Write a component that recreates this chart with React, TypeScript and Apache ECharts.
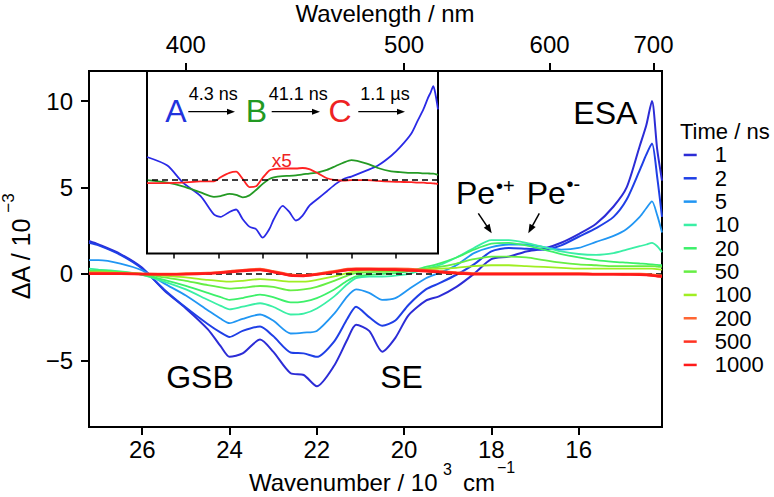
import React, { useEffect, useRef } from "react";
import * as echarts from "echarts";

const FONT = "'Liberation Sans', Arial, Helvetica, sans-serif";

// ---------- data ----------
// wavenumber in 10^3 cm^-1
const wavenumber = [27.22, 27.0, 26.5, 26.0, 25.5, 25.0, 24.5, 24.2, 24.0, 23.7, 23.3, 23.0, 22.6, 22.3, 22.0, 21.6, 21.3, 21.1, 20.8, 20.5, 20.2, 19.9, 19.5, 19.2, 18.8, 18.4, 18.0, 17.6, 17.2, 16.8, 16.4, 16.0, 15.6, 15.2, 14.9, 14.6, 14.45, 14.32, 14.2, 14.09];

// ΔA / 10^-3 at each delay time
const dA_1ns = [1.9, 1.7, 1.15, 0.35, -0.95, -2.0, -3.2, -4.2, -4.8, -4.6, -3.8, -4.5, -5.75, -5.85, -6.5, -5.3, -3.8, -2.95, -3.3, -4.5, -3.7, -2.4, -1.55, -1.3, -0.75, 0.0, 0.85, 1.0, 1.3, 1.45, 1.8, 2.3, 2.9, 3.9, 5.0, 7.4, 8.6, 10.0, 7.2, 5.4];
const dA_2ns = [1.8, 1.65, 1.1, 0.3, -0.9, -1.95, -2.9, -3.4, -3.65, -3.3, -3.05, -3.6, -4.55, -4.6, -4.8, -3.9, -2.6, -1.9, -2.5, -3.0, -2.7, -1.8, -0.9, -0.55, -0.05, 0.55, 1.3, 1.5, 1.45, 1.4, 1.65, 2.15, 2.65, 3.3, 4.3, 6.0, 6.9, 7.55, 5.6, 3.3];
const dA_5ns = [0.8, 0.8, 0.6, 0.2, -0.55, -1.25, -2.1, -2.6, -2.85, -2.6, -2.35, -2.7, -3.45, -3.4, -3.3, -2.3, -1.3, -0.9, -1.1, -1.5, -1.4, -0.9, -0.25, 0.05, 0.5, 1.2, 1.55, 1.7, 1.7, 1.55, 1.4, 1.5, 1.85, 2.2, 2.6, 3.3, 3.8, 4.2, 3.4, 2.4];
const dA_10ns = [0.3, 0.25, 0.15, -0.05, -0.45, -0.9, -1.5, -1.85, -2.05, -1.9, -1.7, -1.9, -2.35, -2.3, -2.0, -1.3, -0.6, -0.25, -0.15, -0.15, -0.1, 0.0, 0.3, 0.5, 0.95, 1.5, 1.95, 1.95, 1.8, 1.55, 1.3, 1.15, 1.1, 1.2, 1.4, 1.6, 1.7, 1.8, 1.6, 1.25];
const dA_20ns = [0.2, 0.2, 0.1, -0.05, -0.35, -0.7, -1.1, -1.35, -1.5, -1.4, -1.2, -1.35, -1.65, -1.6, -1.4, -0.9, -0.4, -0.15, -0.05, 0.0, 0.05, 0.15, 0.4, 0.6, 0.95, 1.4, 1.75, 1.8, 1.65, 1.4, 1.15, 0.95, 0.8, 0.7, 0.65, 0.6, 0.58, 0.55, 0.52, 0.5];
const dA_50ns = [0.15, 0.15, 0.1, 0.0, -0.2, -0.4, -0.65, -0.78, -0.85, -0.8, -0.7, -0.75, -0.95, -0.9, -0.75, -0.4, -0.1, 0.05, 0.1, 0.12, 0.15, 0.2, 0.3, 0.4, 0.6, 0.85, 1.0, 1.0, 0.95, 0.8, 0.65, 0.55, 0.5, 0.45, 0.45, 0.45, 0.45, 0.45, 0.42, 0.4];
const dA_100ns = [0.1, 0.1, 0.05, 0.0, -0.1, -0.2, -0.35, -0.42, -0.45, -0.4, -0.3, -0.35, -0.45, -0.45, -0.35, -0.15, 0.05, 0.15, 0.2, 0.2, 0.2, 0.2, 0.25, 0.3, 0.35, 0.45, 0.5, 0.5, 0.45, 0.4, 0.35, 0.3, 0.3, 0.3, 0.3, 0.3, 0.3, 0.3, 0.28, 0.25];
const dA_200ns = [0.05, 0.05, 0.03, 0.0, 0.0, 0.02, 0.05, 0.1, 0.15, 0.22, 0.28, 0.15, -0.05, -0.08, 0.0, 0.15, 0.28, 0.3, 0.3, 0.3, 0.3, 0.28, 0.22, 0.15, 0.08, 0.03, 0.02, 0.02, 0.02, 0.02, 0.02, 0.02, 0.0, 0.0, 0.0, 0.0, -0.02, -0.05, -0.08, -0.1];
const dA_500ns = [0.03, 0.03, 0.02, 0.0, -0.02, 0.0, 0.03, 0.08, 0.12, 0.2, 0.25, 0.12, -0.08, -0.1, -0.02, 0.12, 0.25, 0.28, 0.28, 0.27, 0.26, 0.24, 0.18, 0.12, 0.05, 0.0, 0.0, 0.0, 0.0, 0.0, 0.0, 0.0, -0.02, -0.02, -0.02, -0.03, -0.05, -0.08, -0.12, -0.14];
const dA_1000ns = [0.0, 0.0, 0.0, -0.02, -0.03, -0.02, 0.02, 0.06, 0.1, 0.17, 0.22, 0.1, -0.1, -0.12, -0.04, 0.1, 0.22, 0.25, 0.26, 0.25, 0.24, 0.2, 0.15, 0.1, 0.03, -0.02, -0.02, -0.02, -0.02, -0.02, -0.02, -0.02, -0.03, -0.03, -0.04, -0.05, -0.07, -0.1, -0.14, -0.15];

const timeLabels = ["1", "2", "5", "10", "20", "50", "100", "200", "500", "1000"];
const timeColors = ["#2c2cd6", "#1f3fe6", "#2196f3", "#3aefa5", "#3df06a", "#66ee44", "#a0ee22", "#ff6633", "#ff3322", "#ff1a1a"];

// inset: species-associated spectra (arb. units)
const insetWavenumber = [27.22, 26.3, 25.6, 24.8, 24.2, 23.9, 23.5, 23.2, 22.9, 22.6, 22.3, 22.0, 21.7, 21.5, 21.1, 20.8, 20.5, 20.2, 19.9, 19.5, 19.1, 18.7, 18.35, 18.0, 17.3, 16.8, 16.2, 15.8, 15.3, 15.0, 14.75, 14.55, 14.42, 14.3, 14.2, 14.09];
const sasA = [0.95, 0.6, -0.1, -0.65, -1.4, -1.5, -1.3, -1.2, -1.6, -1.9, -2.0, -2.35, -2.0, -1.6, -1.05, -1.3, -1.65, -1.45, -1.05, -0.75, -0.45, -0.15, 0.05, 0.15, 0.4, 0.6, 1.0, 1.35, 1.9, 2.45, 2.9, 3.35, 3.6, 3.85, 3.5, 2.9];
const sasB = [0.0, -0.1, -0.25, -0.5, -0.68, -0.65, -0.56, -0.6, -0.7, -0.62, -0.4, -0.15, 0.05, 0.12, 0.17, 0.18, 0.2, 0.24, 0.27, 0.32, 0.42, 0.58, 0.72, 0.82, 0.68, 0.5, 0.36, 0.33, 0.3, 0.3, 0.28, 0.28, 0.27, 0.27, 0.25, 0.22];
const sasC_x5 = [-0.12, -0.12, -0.1, -0.05, -0.05, 0.12, 0.3, 0.35, 0.05, -0.28, -0.25, 0.1, 0.4, 0.45, 0.48, 0.48, 0.48, 0.5, 0.45, 0.28, 0.08, 0.0, -0.02, 0.0, 0.0, -0.03, -0.06, -0.07, -0.08, -0.1, -0.1, -0.12, -0.12, -0.13, -0.14, -0.15];

const wavenumberTicks = [16, 18, 20, 22, 24, 26];
const wavelengthTicks = [400, 500, 600, 700];
const deltaATicks = [-5, 0, 5, 10];

const X_MIN = 14.09;
const X_MAX = 27.22;
const Y_MIN = -8.86;
const Y_MAX = 11.74;
const INSET_Y_MIN = -3;
const INSET_Y_MAX = 4.47;

// ---------- helpers ----------
function txt(text: string, x: number, y: number, fontSize: number, fill = "#000", align = "center", extra: any = {}) {
  return {
    type: "text",
    x,
    y,
    silent: true,
    z: 100,
    style: { text, fontSize, fontFamily: FONT, fill, align, verticalAlign: "middle", ...extra },
  };
}

function arrow(x1: number, y1: number, x2: number, y2: number, lw = 1.5, headLen = 9, headW = 3.5) {
  const dx = x2 - x1;
  const dy = y2 - y1;
  const L = Math.hypot(dx, dy);
  const ux = dx / L;
  const uy = dy / L;
  const bx = x2 - ux * headLen;
  const by = y2 - uy * headLen;
  return [
    { type: "line", silent: true, z: 100, shape: { x1, y1, x2: bx + ux * 1, y2: by + uy * 1 }, style: { stroke: "#000", lineWidth: lw } },
    {
      type: "polygon",
      silent: true,
      z: 100,
      shape: { points: [[x2, y2], [bx - uy * headW, by + ux * headW], [bx + uy * headW, by - ux * headW]] },
      style: { fill: "#000" },
    },
  ];
}

const axisLineStyle = { color: "#000", width: 2 };

export default function App() {
  const ref = useRef<HTMLDivElement>(null);

  useEffect(() => {
    if (!ref.current) return;
    const chart = echarts.init(ref.current, undefined, { renderer: "svg" });

    const mainValues = [dA_1ns, dA_2ns, dA_5ns, dA_10ns, dA_20ns, dA_50ns, dA_100ns, dA_200ns, dA_500ns, dA_1000ns];
    const mainSeries: any[] = mainValues.map((vals, i) => ({
      name: timeLabels[i],
      type: "line",
      xAxisIndex: 0,
      yAxisIndex: 0,
      data: wavenumber.map((w, j) => [w, vals[j]]),
      symbol: "none",
      showSymbol: false,
      smooth: 0.25,
      lineStyle: { color: timeColors[i], width: i >= 7 ? 2.4 : i < 2 ? 2 : 1.8 },
      itemStyle: { color: timeColors[i] },
      emphasis: { disabled: true },
      z: i >= 7 ? 4 : 2,
    }));
    mainSeries[0].markLine = {
      silent: true,
      symbol: ["none", "none"],
      label: { show: false },
      z: 3,
      lineStyle: { color: "#000", type: [6, 4], width: 1.5 },
      data: [{ yAxis: 0 }],
    };

    const insetDefs = [
      { name: "A", vals: sasA, color: "#2a2ae6" },
      { name: "B", vals: sasB, color: "#249a24" },
      { name: "C", vals: sasC_x5, color: "#ff2222" },
    ];
    const insetSeries: any[] = insetDefs.map((s) => ({
      name: s.name,
      type: "line",
      xAxisIndex: 2,
      yAxisIndex: 1,
      data: insetWavenumber.map((w, j) => [w, s.vals[j]]),
      symbol: "none",
      showSymbol: false,
      smooth: 0.25,
      lineStyle: { color: s.color, width: 1.8 },
      itemStyle: { color: s.color },
      emphasis: { disabled: true },
      z: 5,
    }));
    insetSeries[0].markLine = {
      silent: true,
      symbol: ["none", "none"],
      label: { show: false },
      z: 6,
      lineStyle: { color: "#000", type: [6, 4], width: 1.5 },
      data: [{ yAxis: 0 }],
    };

    const wlTickValues = wavelengthTicks.map((l) => 1e4 / l);

    const graphics: any[] = [
      // axis titles
      txt("Wavelength / nm", 385, 13.5, 24),
      txt("Wavenumber / 10", 249, 482.5, 24, "#000", "left"),
      txt("3", 443, 469, 16, "#000", "left"),
      txt("cm", 463, 482.5, 24, "#000", "left"),
      txt("\u22121", 497, 467, 16, "#000", "left"),
      { ...txt("\u0394A / 10", 20.5, 259, 25), rotation: Math.PI / 2 },
      { ...txt("\u22123", 8.5, 203, 17), rotation: Math.PI / 2 },
      // legend title
      txt("Time / ns", 680, 131.5, 22, "#000", "left"),
      // band labels
      txt("GSB", 200, 377, 32),
      txt("SE", 401.5, 377, 32),
      txt("ESA", 605.3, 112.5, 32),
      txt("Pe", 456, 193, 32, "#000", "left"),
      txt("\u2022+", 496, 186, 20, "#000", "left"),
      txt("Pe", 526.7, 193, 32, "#000", "left"),
      txt("\u2022-", 566.5, 184, 20, "#000", "left"),
      ...arrow(478.3, 213.3, 491.7, 233.3),
      ...arrow(539.3, 213.3, 528.3, 233.3),
      // inset kinetic scheme
      txt("A", 175.8, 111, 32, "#2233dd"),
      txt("B", 256.3, 111, 32, "#229922"),
      txt("C", 340, 111, 32, "#ee2222"),
      ...arrow(188.3, 111.7, 235, 111.7, 1.3, 8, 3),
      ...arrow(271.7, 111.7, 320, 111.7, 1.3, 8, 3),
      ...arrow(358.3, 111.7, 405, 111.7, 1.3, 8, 3),
      txt("4.3 ns", 213.3, 94, 18),
      txt("41.1 ns", 298.3, 94, 18),
      txt("1.1 \u00b5s", 385, 94, 18),
      txt("x5", 281.7, 160, 19, "#ee2222"),
    ];

    const option: any = {
      animation: false,
      backgroundColor: "#fff",
      textStyle: { fontFamily: FONT },
      grid: [
        { left: 89, top: 71, width: 573, height: 356, show: true, borderColor: "#000", borderWidth: 2, backgroundColor: "transparent", outerBoundsMode: "none", containLabel: false },
        { left: 147, top: 71, width: 291, height: 182.5, show: true, borderColor: "#000", borderWidth: 2, backgroundColor: "#fff", outerBoundsMode: "none", containLabel: false },
      ],
      xAxis: [
        {
          type: "value",
          gridIndex: 0,
          position: "bottom",
          min: X_MIN,
          max: X_MAX,
          inverse: true,
          axisLine: { show: true, onZero: false, lineStyle: axisLineStyle },
          axisTick: { show: true, inside: false, length: 8, lineStyle: axisLineStyle, customValues: wavenumberTicks },
          axisLabel: { show: true, customValues: wavenumberTicks, fontSize: 24, fontFamily: FONT, color: "#000", margin: 10 },
          splitLine: { show: false },
        },
        {
          type: "value",
          gridIndex: 0,
          position: "top",
          min: X_MIN,
          max: X_MAX,
          inverse: true,
          axisLine: { show: true, onZero: false, lineStyle: axisLineStyle },
          axisTick: { show: true, inside: false, length: 8, lineStyle: axisLineStyle, customValues: wlTickValues },
          axisLabel: {
            show: true,
            customValues: wlTickValues,
            formatter: (v: number) => String(Math.round(1e4 / v)),
            fontSize: 24,
            fontFamily: FONT,
            color: "#000",
            margin: 15,
          },
          splitLine: { show: false },
        },
        {
          type: "value",
          gridIndex: 1,
          position: "bottom",
          min: X_MIN,
          max: X_MAX,
          inverse: true,
          axisLine: { show: false, onZero: false },
          axisTick: { show: true, inside: false, length: 5, lineStyle: { color: "#000", width: 1.5 }, customValues: wavenumberTicks },
          axisLabel: { show: false },
          splitLine: { show: false },
        },
      ],
      yAxis: [
        {
          type: "value",
          gridIndex: 0,
          min: Y_MIN,
          max: Y_MAX,
          axisLine: { show: true, onZero: false, lineStyle: axisLineStyle },
          axisTick: { show: true, inside: false, length: 8, lineStyle: axisLineStyle, customValues: deltaATicks },
          axisLabel: {
            show: true,
            customValues: deltaATicks,
            formatter: (v: number) => (v < 0 ? "\u2212" + Math.abs(v) : String(v)),
            fontSize: 24,
            fontFamily: FONT,
            color: "#000",
            margin: 16,
          },
          splitLine: { show: false },
        },
        {
          type: "value",
          gridIndex: 1,
          min: INSET_Y_MIN,
          max: INSET_Y_MAX,
          show: false,
          splitLine: { show: false },
        },
      ],
      legend: {
        orient: "vertical",
        left: 683.7,
        top: 143.3,
        padding: 0,
        itemGap: 0,
        itemWidth: 13,
        itemHeight: 2.5,
        icon: "rect",
        selectedMode: false,
        data: timeLabels,
        textStyle: { fontFamily: FONT, fontSize: 22, color: "#000", lineHeight: 23.33, padding: [0, 0, 0, 13] },
      },
      series: [...mainSeries, ...insetSeries],
      graphic: graphics,
    };

    chart.setOption(option);
    return () => chart.dispose();
  }, []);

  return <div ref={ref} style={{ position: "absolute", left: 0, top: 0, width: 774, height: 497, background: "#fff" }} />;
}
